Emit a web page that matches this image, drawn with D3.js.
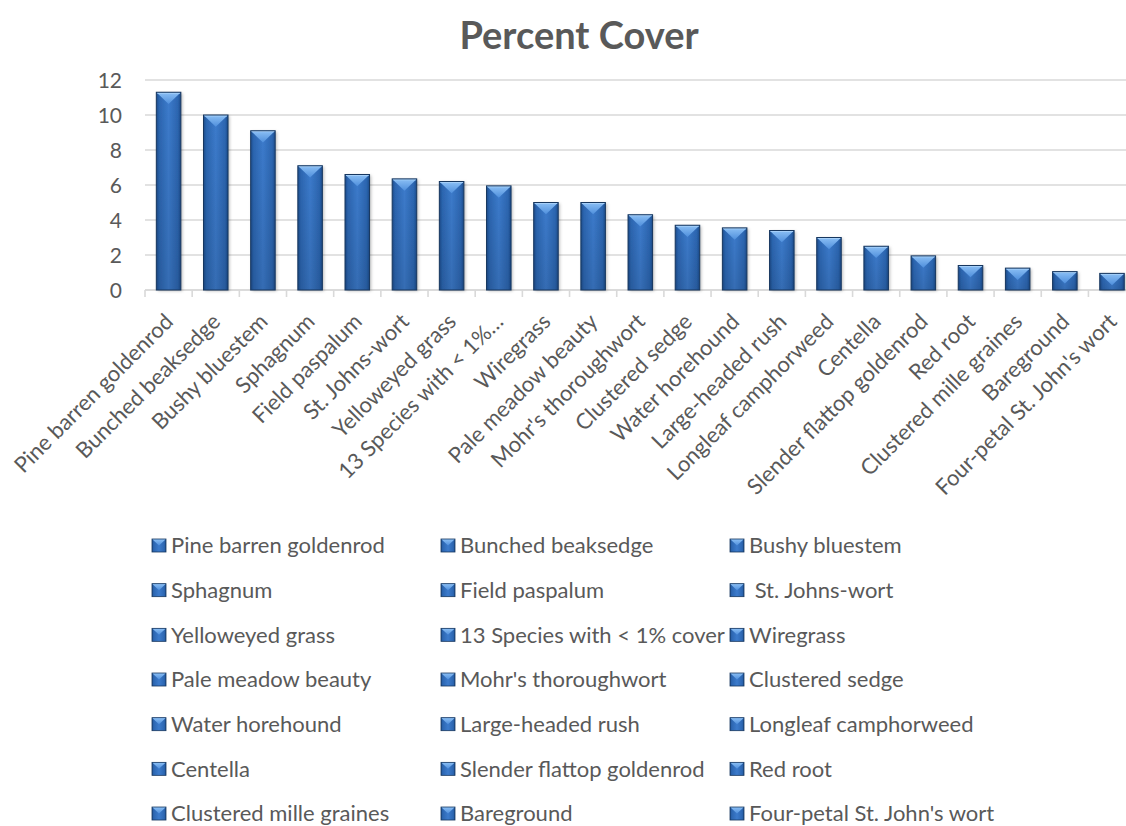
<!DOCTYPE html>
<html>
<head>
<meta charset="utf-8">
<script src="https://cdn.jsdelivr.net/npm/d3@7"></script>
<style>
  html, body { margin: 0; padding: 0; background: #ffffff; }
  svg { display: block; font-family: Lato, "Open Sans", "DejaVu Sans", sans-serif; }
  .legend text { white-space: pre; }
</style>
</head>
<body>
<svg id="chart" width="1126" height="826"></svg>
<script>
// Species (legend names), their axis labels and percent cover values
const categories = [
  "Pine barren goldenrod", "Bunched beaksedge", "Bushy bluestem", "Sphagnum",
  "Field paspalum", " St. Johns-wort", "Yelloweyed grass", "13 Species with < 1% cover",
  "Wiregrass", "Pale meadow beauty", "Mohr's thoroughwort", "Clustered sedge",
  "Water horehound", "Large-headed rush", "Longleaf camphorweed", "Centella",
  "Slender flattop goldenrod", "Red root", "Clustered mille graines", "Bareground",
  "Four-petal St. John's wort"
];
const tickLabels = [
  "Pine barren goldenrod", "Bunched beaksedge", "Bushy bluestem", "Sphagnum",
  "Field paspalum", "St. Johns-wort", "Yelloweyed grass", "13 Species with < 1%…",
  "Wiregrass", "Pale meadow beauty", "Mohr's thoroughwort", "Clustered sedge",
  "Water horehound", "Large-headed rush", "Longleaf camphorweed", "Centella",
  "Slender flattop goldenrod", "Red root", "Clustered mille graines", "Bareground",
  "Four-petal St. John's wort"
];
const values = [
  11.3, 10.0, 9.1, 7.1, 6.6, 6.35, 6.2, 5.95, 5.0, 5.0, 4.3,
  3.7, 3.55, 3.4, 3.0, 2.5, 1.95, 1.4, 1.25, 1.05, 0.95
];
const yTicks = [0, 2, 4, 6, 8, 10, 12];
const chartTitle = "Percent Cover";

const svg = d3.select("#chart");
const textColor = "#595959";
const gridColor = "#d9d9d9";
const labelSize = 22;

// plot area
const plot = { left: 145, right: 1135.6, top: 80, bottom: 290 };

const x = d3.scaleBand()
  .domain(categories)
  .range([plot.left, plot.right])
  .paddingInner(0.48)
  .paddingOuter(0.24);

const y = d3.scaleLinear()
  .domain([0, 12])
  .range([plot.bottom, plot.top]);

// ---- gradients & shadow ----
const defs = svg.append("defs");

const body = defs.append("linearGradient").attr("id", "barBody")
  .attr("x1", 0).attr("x2", 1).attr("y1", 0).attr("y2", 0);
[[0, "#1c4c8c"], [0.12, "#2c66b1"], [0.5, "#3c7bcc"], [0.88, "#2c66b1"], [1, "#1c4c8c"]]
  .forEach(([o, c]) => body.append("stop").attr("offset", o).attr("stop-color", c));

const shade = defs.append("linearGradient").attr("id", "barShade")
  .attr("x1", 0).attr("x2", 0).attr("y1", 0).attr("y2", 1);
shade.append("stop").attr("offset", 0).attr("stop-color", "#000").attr("stop-opacity", 0);
shade.append("stop").attr("offset", 1).attr("stop-color", "#000").attr("stop-opacity", 0.12);

const cap = defs.append("linearGradient").attr("id", "barCap")
  .attr("x1", 0).attr("x2", 0).attr("y1", 0).attr("y2", 1);
cap.append("stop").attr("offset", 0).attr("stop-color", "#8cc0f5");
cap.append("stop").attr("offset", 1).attr("stop-color", "#4f8fdc");

const shadow = defs.append("filter").attr("id", "barShadow")
  .attr("x", "-30%").attr("y", "-10%").attr("width", "160%").attr("height", "130%");
shadow.append("feDropShadow")
  .attr("dx", 1.5).attr("dy", 1).attr("stdDeviation", 1.6)
  .attr("flood-color", "#000").attr("flood-opacity", 0.28);

// ---- title ----
svg.append("text")
  .attr("x", 579).attr("y", 49)
  .attr("text-anchor", "middle")
  .attr("font-size", 38).attr("font-weight", 700)
  .attr("fill", textColor)
  .text(chartTitle);

// ---- gridlines ----
svg.append("g").selectAll("line")
  .data(yTicks)
  .join("line")
  .attr("x1", plot.left).attr("x2", plot.right)
  .attr("y1", d => y(d)).attr("y2", d => y(d))
  .attr("stroke", gridColor).attr("stroke-width", 1.3);

// ---- y axis ----
const yAxis = svg.append("g")
  .attr("transform", `translate(${plot.left - 23},0)`)
  .call(d3.axisLeft(y).tickValues(yTicks).tickSize(0).tickPadding(0).tickFormat(d3.format("d")));
yAxis.select(".domain").remove();
yAxis.selectAll("text")
  .attr("font-family", "Lato, 'Open Sans', sans-serif")
  .attr("font-size", 21).attr("fill", textColor)
  .attr("dy", "0.36em");

// ---- x axis ----
const xAxis = svg.append("g").attr("transform", `translate(0,${plot.bottom})`);
xAxis.append("line")
  .attr("x1", plot.left).attr("x2", plot.right)
  .attr("stroke", gridColor).attr("stroke-width", 1.6);
xAxis.selectAll("line.tick")
  .data(d3.range(categories.length + 1))
  .join("line").attr("class", "tick")
  .attr("x1", i => plot.left + i * x.step())
  .attr("x2", i => plot.left + i * x.step())
  .attr("y1", 0).attr("y2", 7)
  .attr("stroke", gridColor).attr("stroke-width", 1.6);

xAxis.selectAll("text")
  .data(categories)
  .join("text")
  .attr("transform", (d) => `translate(${x(d) + x.bandwidth() / 2 + 6},${33}) rotate(-45)`)
  .attr("text-anchor", "end")
  .attr("font-size", labelSize).attr("fill", textColor)
  .text((d, i) => tickLabels[i]);

// ---- bars ----
function drawBar(g, x0, y0, w, h) {
  g.append("rect").attr("x", x0).attr("y", y0).attr("width", w).attr("height", h)
    .attr("fill", "url(#barBody)").attr("filter", "url(#barShadow)");
  g.append("rect").attr("x", x0).attr("y", y0).attr("width", w).attr("height", h)
    .attr("fill", "url(#barShade)");
  const th = Math.min(w * 0.48, h);
  g.append("path")
    .attr("d", `M${x0},${y0} L${x0 + w},${y0} L${x0 + w / 2},${y0 + th} Z`)
    .attr("fill", "url(#barCap)");
  g.append("line")
    .attr("x1", x0 + 1).attr("x2", x0 + w - 1).attr("y1", y0 + 0.8).attr("y2", y0 + 0.8)
    .attr("stroke", "#a9d2fa").attr("stroke-width", 1.2);
  g.append("rect").attr("x", x0).attr("y", y0).attr("width", w).attr("height", h)
    .attr("fill", "none").attr("stroke", "#17375f").attr("stroke-width", 1);
}

const bars = svg.append("g");
categories.forEach((c, i) => {
  const g = bars.append("g");
  drawBar(g, x(c), y(values[i]), x.bandwidth(), y(0) - y(values[i]));
});

// ---- legend ----
function drawBarSwatch(g, x0, y0, w, h) {
  g.append("rect").attr("x", x0).attr("y", y0).attr("width", w).attr("height", h)
    .attr("fill", "url(#barBody)");
  g.append("path")
    .attr("d", `M${x0},${y0} L${x0 + w},${y0} L${x0 + w / 2},${y0 + h * 0.5} Z`)
    .attr("fill", "url(#barCap)");
  g.append("rect").attr("x", x0).attr("y", y0).attr("width", w).attr("height", h)
    .attr("fill", "none").attr("stroke", "#17375f").attr("stroke-width", 0.8);
}

const legendCols = [152, 441, 730];
const legendTop = 545.5;
const legendRow = 44.67;
const legend = svg.append("g").attr("class", "legend");
categories.forEach((c, i) => {
  const col = i % 3, row = Math.floor(i / 3);
  const lx = legendCols[col], ly = legendTop + row * legendRow;
  const g = legend.append("g");
  drawBarSwatch(g, lx, ly - 6.5, 14, 13);
  g.append("text")
    .attr("x", lx + 19).attr("y", ly)
    .attr("dy", "0.36em")
    .attr("font-size", labelSize).attr("fill", textColor)
    .text(c);
});
</script>
</body>
</html>
